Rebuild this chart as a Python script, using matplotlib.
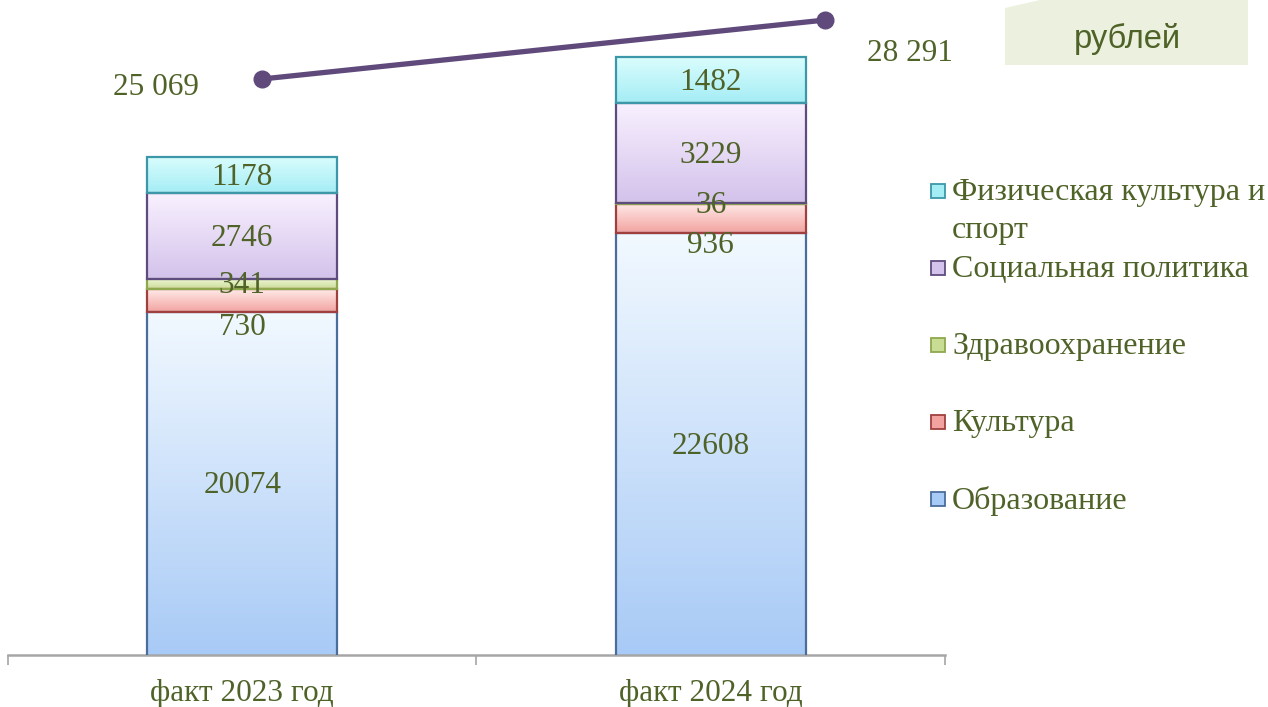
import numpy as np
import matplotlib
matplotlib.use("Agg")
import matplotlib.pyplot as plt
from matplotlib.colors import LinearSegmentedColormap
from matplotlib.patches import Rectangle, Polygon

# данные
years = ["факт 2023 год", "факт 2024 год"]
series = ["Образование", "Культура", "Здравоохранение", "Социальная политика",
          "Физическая культура и\nспорт"]
obrazovanie = [20074, 22608]
kultura = [730, 936]
zdravoohranenie = [341, 36]
soc_politika = [2746, 3229]
sport = [1178, 1482]
totals = [25069, 28291]
total_labels = ["25 069", "28 291"]

values = [obrazovanie, kultura, zdravoohranenie, soc_politika, sport]
# (верх, низ, контур)
colors = [("#F2F9FF", "#A8CAF6", "#4A6D9C"),
          ("#FFEAE8", "#F2A3A0", "#A0403E"),
          ("#F2F8DC", "#C8DC94", "#8FA84E"),
          ("#F9F1FF", "#D3C2EB", "#5E4C7E"),
          ("#DAFDFD", "#A4EDF5", "#3C97A8")]
label_shift = [0, -18, 0, 0, 0]  # сдвиг подписей (pt)

TXT = "#4F6228"
SERIF = ["Liberation Serif", "DejaVu Serif"]
FS = 22.5

fig = plt.figure(figsize=(12.68, 7.07), dpi=100)
rect = [8 / 1268, 52 / 707, 937 / 1268, 655 / 707]
ax = fig.add_axes(rect)
ymin, ymax = 9000, 30129
x = np.arange(len(years))
width = 0.406

bottoms = np.zeros(len(years))
for vals, (ctop, cbot, cedge), shift in zip(values, colors, label_shift):
    bars = ax.bar(x, vals, width, bottom=bottoms, facecolor="none",
                  edgecolor=cedge, linewidth=1.6, zorder=3)
    cmap = LinearSegmentedColormap.from_list("g", [cbot, ctop])
    grad = np.linspace(0, 1, 256).reshape(-1, 1)
    for b, v in zip(bars, vals):
        y0 = max(b.get_y(), ymin)
        y1 = b.get_y() + b.get_height()
        im = ax.imshow(grad, cmap=cmap, origin="lower", aspect="auto",
                       extent=(b.get_x(), b.get_x() + b.get_width(), y0, y1),
                       zorder=2.5)
        im.set_clip_path(b)
        ax.annotate(str(v), (b.get_x() + b.get_width() / 2, (y0 + y1) / 2),
                    xytext=(0, shift - 1.5), textcoords="offset points",
                    ha="center", va="center", fontsize=FS, color=TXT,
                    family=SERIF, zorder=5)
    bottoms += np.array(vals)

ax.set_xlim(-0.5, 1.5)
ax.set_ylim(ymin, ymax)
for s in ["top", "right", "left"]:
    ax.spines[s].set_visible(False)
ax.spines["bottom"].set_color("#A6A6A6")
ax.spines["bottom"].set_linewidth(1.8)
ax.set_yticks([])
ax.set_xticks(x)
ax.set_xticklabels(years, fontsize=FS, color=TXT, family=SERIF)
ax.tick_params(axis="x", which="major", length=0, pad=17)
ax.set_xticks([-0.5, 0.5, 1.5], minor=True)
ax.tick_params(axis="x", which="minor", length=7, width=1.2, color="#A6A6A6",
               direction="out")
ax.patch.set_visible(False)

# линия итогов на отдельной оси
ax2 = fig.add_axes(rect)
ax2.set_xlim(-0.451, 1.213)
ax2.set_ylim(-6406, 29386)
ax2.axis("off")
ax2.plot(x, totals, color="#604A7B", linewidth=3.8, marker="o",
         markersize=12, solid_capstyle="round", zorder=6, clip_on=False)
offsets = [(-76, -6), (61, -24)]
for xi, t, lab, off in zip(x, totals, total_labels, offsets):
    ax2.annotate(lab, (xi, t), xytext=off, textcoords="offset points",
                 ha="center", va="center", fontsize=FS, color=TXT, family=SERIF)

# легенда
for i, (name, (ctop, cbot, cedge)) in enumerate(zip(series[::-1], colors[::-1])):
    yc = 1 - (191 + i * 77) / 707
    fig.patches.append(Rectangle((931 / 1268, yc - 7 / 707), 14 / 1268, 14 / 707,
                                 transform=fig.transFigure, facecolor=cbot,
                                 edgecolor=cedge, linewidth=1.3))
    fig.text(952 / 1268, yc + 13 / 707, name, ha="left", va="top",
             fontsize=23, color=TXT, family=SERIF, linespacing=1.4)

# плашка "рублей"
box = Polygon([(1005 / 1268, 1 - 65 / 707), (1005 / 1268, 1 - 8 / 707),
               (1040 / 1268, 1.0), (1248 / 1268, 1.0), (1248 / 1268, 1 - 65 / 707)],
              closed=True, transform=fig.transFigure, facecolor="#EBF1DE",
              edgecolor="none")
fig.patches.append(box)
fig.text(1127 / 1268, 1 - 39 / 707, "рублей", ha="center", va="center",
         fontsize=23.5, color=TXT, family=["Liberation Sans", "DejaVu Sans"])

fig.savefig("out.png", dpi=100)
